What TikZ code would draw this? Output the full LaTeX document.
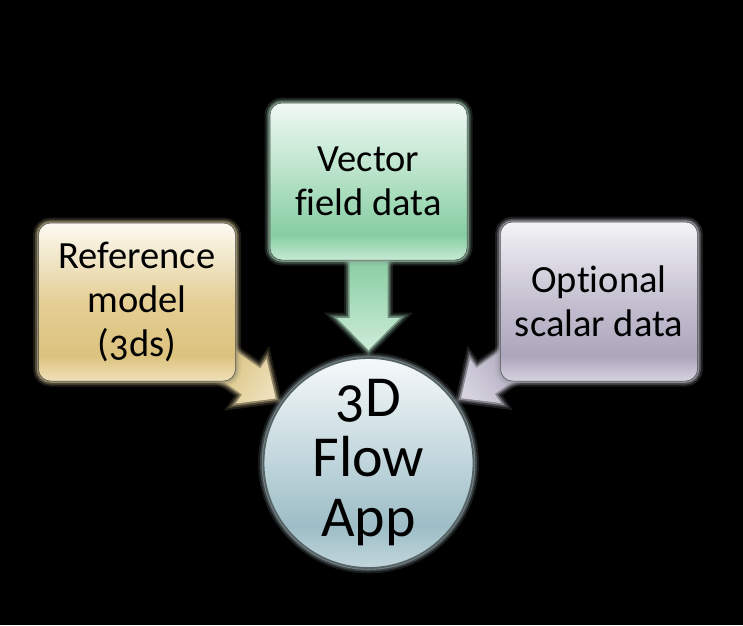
\documentclass[tikz,border=0pt]{standalone}
\usepackage{fontspec}
\setmainfont{Carlito}[Numbers=OldStyle, Ligatures=NoCommon]
\usetikzlibrary{calc}
\definecolor{bg}{HTML}{000000}
\definecolor{tanglow}{HTML}{A89C78}
\definecolor{greenglow}{HTML}{86A894}
\definecolor{purpleglow}{HTML}{A09EAA}
\definecolor{circleglow}{HTML}{8A9A9E}
\definecolor{circleedge}{HTML}{566466}
\definecolor{tanA}{HTML}{D8C07A}
\definecolor{tanB}{HTML}{EDE0BA}
\definecolor{greenA}{HTML}{84CC9F}
\definecolor{greenB}{HTML}{CDECD8}
\definecolor{purpleA}{HTML}{ACA6BC}
\definecolor{purpleB}{HTML}{D6D3DF}
\definecolor{tanS1}{HTML}{EEE0B8}
\definecolor{tanS2}{HTML}{DCC27E}
\definecolor{tanS3}{HTML}{E4CE94}
\definecolor{tanS4}{HTML}{FCFAF3}
\definecolor{grS1}{HTML}{C6EAD4}
\definecolor{grS2}{HTML}{86CEA2}
\definecolor{grS3}{HTML}{B2E0C4}
\definecolor{grS4}{HTML}{F0F9F4}
\definecolor{puS1}{HTML}{D6D2DE}
\definecolor{puS2}{HTML}{ACA6BC}
\definecolor{puS3}{HTML}{C4C0D0}
\definecolor{puS4}{HTML}{F4F3F7}
\definecolor{ciS1}{HTML}{C2D6DC}
\definecolor{ciS2}{HTML}{9DBDC6}
\definecolor{ciS3}{HTML}{C4D8DE}
\definecolor{ciS4}{HTML}{F6F9FA}
\pgfdeclareverticalshading{tanbox}{100bp}{color(0bp)=(tanS1); color(25bp)=(tanS1); color(33bp)=(tanS2); color(50bp)=(tanS3); color(75bp)=(tanS4); color(100bp)=(tanS4)}
\pgfdeclareverticalshading{greenbox}{100bp}{color(0bp)=(grS1); color(25bp)=(grS1); color(33bp)=(grS2); color(50bp)=(grS3); color(75bp)=(grS4); color(100bp)=(grS4)}
\pgfdeclareverticalshading{purplebox}{100bp}{color(0bp)=(puS1); color(25bp)=(puS1); color(33bp)=(puS2); color(50bp)=(puS3); color(75bp)=(puS4); color(100bp)=(puS4)}
\pgfdeclareverticalshading{circlefill}{100bp}{color(0bp)=(ciS1); color(25bp)=(ciS1); color(35bp)=(ciS2); color(52bp)=(ciS3); color(75bp)=(ciS4); color(100bp)=(ciS4)}
\tikzset{
  glow/.style={
    preaction={draw=#1, line width=11pt, opacity=0.18},
    preaction={draw=#1, line width=7pt, opacity=0.35},
    preaction={draw=#1, line width=3.5pt, opacity=0.75}},
  box/.style={rounded corners=12pt, minimum width=197pt, minimum height=158pt,
    align=center, font=\fontsize{38.5}{44}\selectfont,
    draw=black!70, line width=0.5pt, inner sep=0pt},
  hub/.style={circle, minimum size=210pt, align=center, inner sep=0pt,
    font=\fontsize{58}{60}\selectfont, draw=circleedge, line width=1.8pt,
    shading=circlefill, glow=circleglow},
  flow/.style={line join=miter, draw=none}
}
% #1 tail coordinate, #2 tip coordinate, #3 half shaft, #4 half head, #5 head length, #6 style
\newcommand\blockarrow[6]{%
  \coordinate (#2-b) at ($(#2)!#5!(#1)$);
  \path[#6] ($(#1)!#3!90:(#2)$) -- ($(#2-b)!#3!90:(#2)$) -- ($(#2-b)!#4!90:(#2)$)
    -- (#2) -- ($(#2-b)!#4!-90:(#2)$) -- ($(#2-b)!#3!-90:(#2)$)
    -- ($(#1)!#3!-90:(#2)$) -- cycle;}
\begin{document}
\begin{tikzpicture}[x=1pt,y=-1pt]
\useasboundingbox (0,0) rectangle (743,625);
\fill[bg] (0,0) rectangle (743,625);
\path (137,302) coordinate (refc) (368.5,181.5) coordinate (vecc) (599,301.5) coordinate (optc) (368.5,463) coordinate (appc);
\coordinate (t1) at ($(appc)!113pt!(refc)$);
\coordinate (t2) at ($(appc)!113pt!(vecc)$);
\coordinate (t3) at ($(appc)!113pt!(optc)$);
\coordinate (s1) at ($(t1)!66pt!(refc)$);
\coordinate (s2) at ($(t2)!96pt!(vecc)$);
\coordinate (s3) at ($(t3)!66pt!(optc)$);
% arrows
\blockarrow{s2}{t2}{19pt}{31.5pt}{32pt}{flow, top color=greenA, bottom color=greenB, glow=greenglow}
\blockarrow{s1}{t1}{16pt}{27pt}{30pt}{flow, top color=tanA, bottom color=tanB, shading angle=55, glow=tanglow}
\blockarrow{s3}{t3}{16pt}{27pt}{30pt}{flow, top color=purpleA, bottom color=purpleB, shading angle=-55, glow=purpleglow}
% boxes
\node[box, shading=tanbox, glow=tanglow] (ref) at (refc) {Reference\\model\\(3ds)};
\node[box, shading=greenbox, glow=greenglow, minimum height=157pt] (vec) at (vecc) {Vector\\field data};
\node[box, shading=purplebox, glow=purpleglow, minimum height=159pt] (opt) at (optc) {Optional\\scalar data};
\node[hub] (app) at (appc) {3D\\Flow\\App};
\end{tikzpicture}
\end{document}
